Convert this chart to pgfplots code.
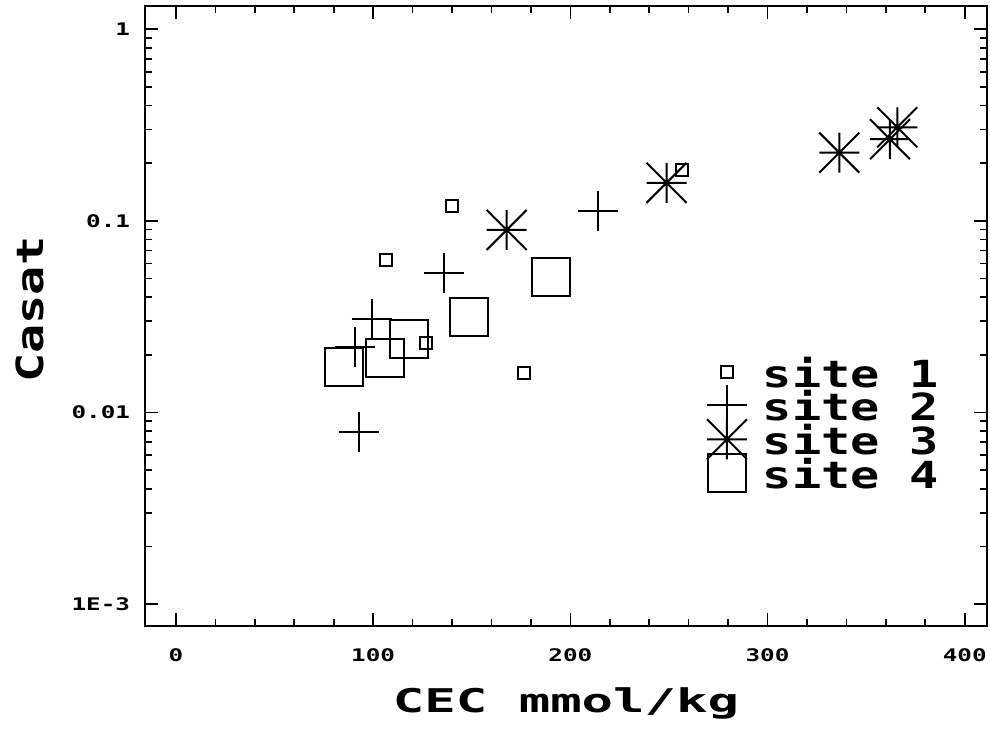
\documentclass[border=0pt]{standalone}
\usepackage{fontspec}
\usepackage{pgfplots}
\pgfplotsset{compat=1.18}
\newfontfamily\tickfont[FakeStretch=1.4]{DejaVu Sans Mono}
\newfontfamily\xlabfont[FakeStretch=1.6]{DejaVu Sans Mono}
\newfontfamily\legfont[FakeStretch=1.3]{DejaVu Sans Mono}
\pgfdeclareplotmark{star8}{%
  \pgfpathmoveto{\pgfqpoint{-\pgfplotmarksize}{0pt}}%
  \pgfpathlineto{\pgfqpoint{\pgfplotmarksize}{0pt}}%
  \pgfpathmoveto{\pgfqpoint{0pt}{-\pgfplotmarksize}}%
  \pgfpathlineto{\pgfqpoint{0pt}{\pgfplotmarksize}}%
  \pgfpathmoveto{\pgfqpoint{-\pgfplotmarksize}{-\pgfplotmarksize}}%
  \pgfpathlineto{\pgfqpoint{\pgfplotmarksize}{\pgfplotmarksize}}%
  \pgfpathmoveto{\pgfqpoint{-\pgfplotmarksize}{\pgfplotmarksize}}%
  \pgfpathlineto{\pgfqpoint{\pgfplotmarksize}{-\pgfplotmarksize}}%
  \pgfusepathqstroke}
\begin{document}
\begin{tikzpicture}
\begin{axis}[
  scale only axis, width=631.5pt, height=465pt,
  ymode=log, xmin=-15.7, xmax=411.3, ymin=7.69e-4, ymax=1.323,
  xtick={0,100,200,300,400}, xticklabels={0,100,200,300,400},
  minor x tick num=4,
  ytick={0.001,0.01,0.1,1}, yticklabels={1E-3,0.01,0.1,1},
  minor ytick={0.002,0.003,0.004,0.005,0.006,0.007,0.008,0.009,0.02,0.03,0.04,0.05,0.06,0.07,0.08,0.09,0.2,0.3,0.4,0.5,0.6,0.7,0.8,0.9},
  tick align=inside,
  major tick length=9.75pt, minor tick length=5pt,
  major tick style={black, line width=1.2pt},
  minor tick style={black, line width=1.2pt},
  axis line style={line width=1.6pt},
  xticklabel style={font=\tickfont\bfseries\fontsize{13}{13}\selectfont, anchor=north, inner sep=0pt, yshift=-17pt},
  yticklabel style={font=\tickfont\bfseries\fontsize{13}{13}\selectfont, anchor=east, inner sep=0pt, xshift=-11pt},
  xlabel={CEC mmol/kg}, ylabel={Casat},
  every axis x label/.style={at={(axis description cs:0.5,-0.1403)}, anchor=base, font=\xlabfont\bfseries\fontsize{24.5}{24.5}\selectfont},
  every axis y label/.style={at={(axis description cs:-0.1211,0.51)}, rotate=90, anchor=base, font=\legfont\bfseries\fontsize{28}{28}\selectfont},
  legend cell align=left,
  legend style={draw=none, fill=none, at={(0.688,0.4285)}, anchor=north west, inner sep=0pt, outer sep=0pt, row sep=5.35pt, column sep=0pt, font=\legfont\bfseries\fontsize{28}{28}\selectfont, nodes={inner sep=0pt, text height=20pt, text depth=0pt}},
  legend image code/.code={\path[draw=none,fill=none] (-2pt,-2pt) rectangle (27pt,2pt); \draw[overlay] plot coordinates {(0pt,1.5pt)};},
]
\coordinate (sw) at (rel axis cs:0,0);
\coordinate (ne) at (rel axis cs:1,1);
\addplot[only marks, black, mark=square, mark size=4.6pt, line width=1.5pt] coordinates {
  (140.0,0.120) (106.5,0.0625) (126.8,0.0231) (176.5,0.0161) (256.6,0.184)};
\addlegendentry{site 1}
\addplot[only marks, black, mark=+, mark size=15pt, line width=1.5pt] coordinates {
  (93.0,0.00788) (99.2,0.0308) (90.8,0.0220) (136.1,0.0533) (213.9,0.1127)};
\addlegendentry{site 2}
\addplot[only marks, black, mark=star8, mark size=15pt, line width=1.5pt] coordinates {
  (167.7,0.0897) (248.8,0.158) (336.4,0.227) (362.1,0.267) (365.8,0.308)};
\addlegendentry{site 3}
\addplot[only marks, black, mark=square, mark size=14.25pt, line width=1.5pt] coordinates {
  (85.0,0.0173) (106.1,0.0192) (118.0,0.0241) (148.6,0.0316) (190.2,0.0507)};
\addlegendentry{site 4}
\end{axis}
\pgfresetboundingbox
\path ([shift={(-108.75pt,-79.5pt)}]sw) rectangle ([shift={(2.25pt,4.5pt)}]ne);
\end{tikzpicture}
\end{document}
